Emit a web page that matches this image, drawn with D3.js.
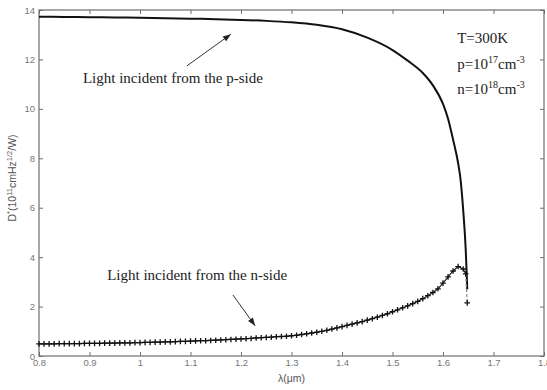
<!DOCTYPE html>
<html><head><meta charset="utf-8">
<script src="https://cdn.jsdelivr.net/npm/d3@7"></script>
<style>body{margin:0;background:#fff}svg{display:block}</style>
</head><body>
<svg id="c" width="547" height="390"></svg>
<script>
// ---- data ----
const xTicks = [0.8,0.9,1.0,1.1,1.2,1.3,1.4,1.5,1.6,1.7,1.8];
const xTickLabels = ["0.8","0.9","1","1.1","1.2","1.3","1.4","1.5","1.6","1.7","1.8"];
const yTicks = [0,2,4,6,8,10,12,14];
const yTickLabels = ["0","2","4","6","8","10","12","14"];

// Light incident from the p-side
const pLambda = [0.80,0.85,0.90,0.95,1.00,1.05,1.10,1.15,1.20,1.25,1.30,1.35,1.40,1.45,1.50,1.53,1.56,1.58,1.60,1.61,1.62,1.63,1.635,1.64,1.645,1.647,1.648];
const pValues = [13.73,13.72,13.71,13.70,13.69,13.67,13.65,13.63,13.60,13.56,13.50,13.40,13.22,12.88,12.38,11.95,11.45,10.95,10.20,9.60,8.75,7.80,7.10,5.90,4.30,3.30,2.70];

// Light incident from the n-side
const nLambda = [0.80,0.81,0.82,0.83,0.84,0.85,0.86,0.87,0.88,0.89,0.90,0.91,0.92,0.93,0.94,0.95,0.96,0.97,0.98,0.99,
  1.00,1.01,1.02,1.03,1.04,1.05,1.06,1.07,1.08,1.09,1.10,1.11,1.12,1.13,1.14,1.15,1.16,1.17,1.18,1.19,
  1.20,1.21,1.22,1.23,1.24,1.25,1.26,1.27,1.28,1.29,1.30,1.31,1.32,1.33,1.34,1.35,1.36,1.37,1.38,1.39,
  1.40,1.41,1.42,1.43,1.44,1.45,1.46,1.47,1.48,1.49,1.50,1.51,1.52,1.53,1.54,1.55,1.56,1.57,1.58,1.59,
  1.60,1.61,1.62,1.63,1.64,1.645];
const nValues = [0.49,0.49,0.49,0.49,0.50,0.50,0.50,0.50,0.50,0.51,0.51,0.51,0.51,0.52,0.52,0.52,0.53,0.53,0.53,0.54,
  0.54,0.55,0.55,0.56,0.56,0.57,0.57,0.58,0.59,0.59,0.60,0.61,0.62,0.62,0.63,0.64,0.65,0.66,0.67,0.68,
  0.69,0.70,0.71,0.73,0.74,0.75,0.76,0.78,0.79,0.80,0.82,0.84,0.87,0.90,0.93,0.96,1.00,1.04,1.09,1.14,
  1.19,1.24,1.29,1.34,1.39,1.45,1.51,1.57,1.64,1.71,1.79,1.87,1.95,2.03,2.12,2.21,2.32,2.44,2.57,2.72,
  2.95,3.20,3.44,3.62,3.52,3.32];
// final drop of the n-side curve (dashed)
const nDropLambda = [1.645,1.648];
const nDropValues = [3.32,2.15];

// ---- layout ----
const svg = d3.select("#c");
const L=39, R=544, T=10, B=356;
const x = d3.scaleLinear().domain([0.8,1.8]).range([L,R]);
const y = d3.scaleLinear().domain([0,14]).range([B,T]);
const axisCol = "#6e6e6e";
const tickFont = "Arial, 'Liberation Sans', sans-serif";

// frame
svg.append("rect").attr("x",L).attr("y",T).attr("width",R-L).attr("height",B-T)
  .attr("fill","none").attr("stroke",axisCol).attr("stroke-width",1.2);

// axes with inward ticks
const gx = svg.append("g").attr("transform",`translate(0,${B})`)
  .call(d3.axisBottom(x).tickValues(xTicks).tickSizeInner(-4).tickSizeOuter(0)
    .tickFormat((d,i)=>xTickLabels[i]).tickPadding(3));
const gxt = svg.append("g").attr("transform",`translate(0,${T})`)
  .call(d3.axisTop(x).tickValues(xTicks).tickSizeInner(-4).tickSizeOuter(0).tickFormat(""));
const gy = svg.append("g").attr("transform",`translate(${L},0)`)
  .call(d3.axisLeft(y).tickValues(yTicks).tickSizeInner(-4).tickSizeOuter(0)
    .tickFormat((d,i)=>yTickLabels[i]).tickPadding(4));
const gyr = svg.append("g").attr("transform",`translate(${R},0)`)
  .call(d3.axisRight(y).tickValues(yTicks).tickSizeInner(-4).tickSizeOuter(0).tickFormat(""));
[gx,gxt,gy,gyr].forEach(g=>{
  g.select(".domain").remove();
  g.selectAll(".tick line").attr("stroke",axisCol).attr("stroke-width",1);
  g.selectAll("text").attr("fill","#777").style("font-family",tickFont).style("font-size","9.5px");
});

// p-side curve
const lineP = d3.line().x((d,i)=>x(pLambda[i])).y((d,i)=>y(pValues[i])).curve(d3.curveMonotoneX);
svg.append("path").datum(pValues).attr("d",lineP).attr("fill","none")
  .attr("stroke","#111").attr("stroke-width",2);

// n-side curve
const lineN = d3.line().x((d,i)=>x(nLambda[i])).y((d,i)=>y(nValues[i]));
svg.append("path").datum(nValues).attr("d",lineN).attr("fill","none")
  .attr("stroke","#222").attr("stroke-width",1.2);
const lineD = d3.line().x((d,i)=>x(nDropLambda[i])).y((d,i)=>y(nDropValues[i]));
svg.append("path").datum(nDropValues).attr("d",lineD).attr("fill","none")
  .attr("stroke","#888").attr("stroke-width",1.2).attr("stroke-dasharray","3,2");
// + markers
const plusPts = nValues.map((v,i)=>[nLambda[i],v]).concat([[nDropLambda[1],nDropValues[1]]]);
const ms = 2.8;
svg.append("g").selectAll("path").data(plusPts).join("path")
  .attr("d",d=>{const px=x(d[0]),py=y(d[1]);return `M${px-ms},${py}H${px+ms}M${px},${py-ms}V${py+ms}`;})
  .attr("stroke","#111").attr("stroke-width",1.3).attr("fill","none");

// annotations
const serif = "'Liberation Serif','Times New Roman',serif";
svg.append("text").attr("x",x(0.887)).attr("y",y(11.05)).text("Light incident from the p-side")
  .style("font-family",serif).style("font-size","15px").attr("fill","#222");
svg.append("text").attr("x",x(0.935)).attr("y",y(3.08)).text("Light incident from the n-side")
  .style("font-family",serif).style("font-size","15px").attr("fill","#222");

function arrow(l1,v1,l2,v2){
  const x1=x(l1),y1=y(v1),x2=x(l2),y2=y(v2);
  svg.append("line").attr("x1",x1).attr("y1",y1).attr("x2",x2).attr("y2",y2)
    .attr("stroke","#333").attr("stroke-width",1);
  const a=Math.atan2(y2-y1,x2-x1), len=8, w=3;
  const bx=x2-len*Math.cos(a), by=y2-len*Math.sin(a);
  const px=-Math.sin(a)*w, py=Math.cos(a)*w;
  svg.append("path").attr("d",`M${x2},${y2}L${bx+px},${by+py}L${bx-px},${by-py}Z`).attr("fill","#222");
}
arrow(1.093,11.74,1.180,13.02);
arrow(1.184,2.47,1.228,1.22);

// parameter text
const tx = x(1.628);
const tT = svg.append("text").attr("x",tx).attr("y",y(12.65)).style("font-family",serif).style("font-size","15px").attr("fill","#222");
tT.text("T=300K");
function supText(vy, base, sup, unit){
  const t = svg.append("text").attr("x",tx).attr("y",y(vy)).style("font-family",serif).style("font-size","15px").attr("fill","#222");
  t.append("tspan").text(base);
  t.append("tspan").attr("dy",-6).style("font-size","10px").text(sup);
  t.append("tspan").attr("dy",6).text("cm");
  t.append("tspan").attr("dy",-6).style("font-size","10px").text(unit);
}
supText(11.6,"p=10","17","-3");
supText(10.6,"n=10","18","-3");

// axis titles
svg.append("text").attr("x",(L+R)/2).attr("y",382).attr("text-anchor","middle")
  .style("font-family",tickFont).style("font-size","10.5px").attr("fill","#555").text("λ(μm)");
const yt = svg.append("text").attr("transform",`translate(16,178) rotate(-90)`).attr("text-anchor","middle")
  .style("font-family",tickFont).style("font-size","10.5px").attr("fill","#555");
yt.append("tspan").text("D");
yt.append("tspan").attr("dy",-4).style("font-size","7.5px").text("*");
yt.append("tspan").attr("dy",4).text("(10");
yt.append("tspan").attr("dy",-4).style("font-size","7.5px").text("11");
yt.append("tspan").attr("dy",4).text("cmHz");
yt.append("tspan").attr("dy",-4).style("font-size","7.5px").text("1/2");
yt.append("tspan").attr("dy",4).text("/W)");
</script>
</body></html>
